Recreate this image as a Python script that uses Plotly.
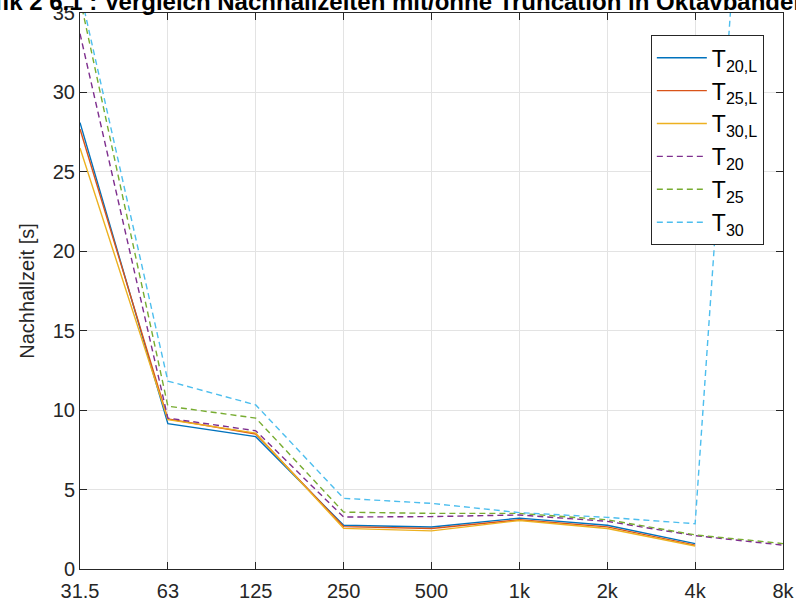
import plotly.graph_objects as go

# Octave band centre frequencies (axis labels)
bands = ["31.5", "63", "125", "250", "500", "1k", "2k", "4k", "8k"]

# Reverberation times in seconds, with truncation (L) and without
t20_l = [28.1, 9.15, 8.33, 2.75, 2.64, 3.2, 2.75, 1.6, None]
t25_l = [27.7, 9.45, 8.5, 2.67, 2.55, 3.1, 2.65, 1.5, None]
t30_l = [26.5, 9.4, 8.55, 2.56, 2.4, 3.05, 2.55, 1.45, None]
t20 = [33.7, 9.5, 8.7, 3.27, 3.3, 3.4, 3.0, 2.1, 1.5]
t25 = [35.9, 10.25, 9.5, 3.58, 3.5, 3.5, 3.1, 2.15, 1.6]
t30 = [36.4, 11.83, 10.33, 4.45, 4.13, 3.55, 3.25, 2.85, 83.0]

names = ["T<sub>20,L</sub>", "T<sub>25,L</sub>", "T<sub>30,L</sub>",
         "T<sub>20</sub>", "T<sub>25</sub>", "T<sub>30</sub>"]
series = [t20_l, t25_l, t30_l, t20, t25, t30]
colors = ["#0072BD", "#D95319", "#EDB120", "#7E2F8E", "#77AC30", "#4DBEEE"]
dashes = ["solid", "solid", "solid", "6px,4px", "6px,4px", "6px,4px"]

FONT = "Liberation Sans, Arial, sans-serif"
AX = "#262626"

fig = go.Figure()
for name, ys, col, dash in zip(names, series, colors, dashes):
    fig.add_trace(go.Scatter(
        x=bands, y=ys, name=name, mode="lines",
        line=dict(color=col, width=1.4, dash=dash),
        connectgaps=False,
    ))

fig.update_layout(
    width=796, height=604,
    margin=dict(l=80, r=13, t=13, b=35),
    paper_bgcolor="white", plot_bgcolor="white",
    font=dict(family=FONT, size=20, color=AX),
    title=dict(
        text="<b>Grafik 2 6.1 : Vergleich Nachhallzeiten mit/ohne Truncation in Oktavbändern</b>",
        x=0.484, xanchor="center", xref="container",
        y=0.997, yanchor="middle", yref="container",
        font=dict(family=FONT, size=24, color="black"),
    ),
    showlegend=True,
    legend=dict(
        x=0.812, y=0.96, xanchor="left", yanchor="top",
        bgcolor="white", bordercolor=AX, borderwidth=1,
        font=dict(family=FONT, size=23, color="black"),
        tracegroupgap=0, itemwidth=50,
    ),
)

fig.update_xaxes(
    type="category", range=[0, 8], automargin=False,
    showline=True, linecolor=AX, linewidth=1, mirror="ticks",
    ticks="inside", ticklen=7, tickcolor=AX,
    showgrid=True, gridcolor="#e3e3e3", gridwidth=1,
    tickfont=dict(size=20, color=AX), ticklabelstandoff=4,
    zeroline=False,
)
fig.update_yaxes(
    range=[0, 35], dtick=5, automargin=False,
    showline=True, linecolor=AX, linewidth=1, mirror="ticks",
    ticks="inside", ticklen=7, tickcolor=AX,
    showgrid=True, gridcolor="#e3e3e3", gridwidth=1,
    tickfont=dict(size=20, color=AX),
    title=dict(text="Nachhallzeit [s]", font=dict(size=20, color=AX), standoff=12),
    zeroline=False,
)

fig.write_html("out.html")
